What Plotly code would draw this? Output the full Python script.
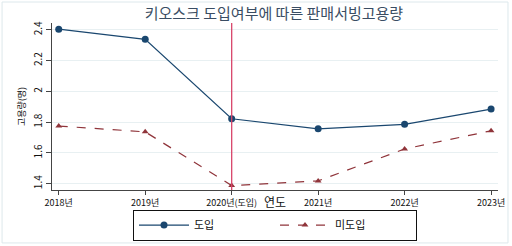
import plotly.graph_objects as go

categories = ["2018년", "2019년", "2020년(도입)", "2021년", "2022년", "2023년"]
adopted = [2.405, 2.339, 1.822, 1.757, 1.786, 1.885]
not_adopted = [1.775, 1.737, 1.388, 1.418, 1.626, 1.744]
y_ticks = [1.4, 1.6, 1.8, 2.0, 2.2, 2.4]
y_ticktext = ["1.4", "1.6", "1.8", "2", "2.2", "2.4"]
intro_index = 2

FONT = "Noto Sans CJK KR"
xs = list(range(len(categories)))

fig = go.Figure()
fig.add_trace(go.Scatter(
    x=xs, y=adopted, name="도입", mode="lines+markers",
    line=dict(color="#1a476f", width=1.2),
    marker=dict(symbol="circle", size=7, color="#1a476f"),
))
fig.add_trace(go.Scatter(
    x=xs, y=not_adopted, name="미도입", mode="lines+markers",
    line=dict(color="#90353b", width=1.2, dash="dash"),
    marker=dict(symbol="triangle-up", size=6, color="#90353b"),
))

fig.add_shape(type="line", xref="x", yref="paper", x0=intro_index, x1=intro_index,
              y0=0, y1=1, line=dict(color="#d8456a", width=1.3))
# outer frame
fig.add_shape(type="rect", xref="paper", yref="paper", x0=-0.112, x1=1.0224,
              y0=-0.317, y1=1.1257, line=dict(color="#dde8ec", width=1), layer="below")

fig.update_layout(
    width=512, height=246,
    margin=dict(l=52, r=14, t=23, b=56, autoexpand=False),
    paper_bgcolor="white", plot_bgcolor="white",
    font=dict(family=FONT, color="#222"),
    title=dict(text="키오스크 도입여부에 따른 판매서빙고용량", x=0.535, xanchor="center",
               y=0.945, yanchor="middle", font=dict(size=15, color="#3a4d63", family=FONT)),
    showlegend=True,
    legend=dict(orientation="h", x=0.5, xanchor="center",
                yref="container", y=0.085, yanchor="middle",
                bordercolor="#111", borderwidth=1, bgcolor="white",
                font=dict(size=11, family=FONT, color="#111"),
                entrywidth=76, itemwidth=50, tracegroupgap=0),
)
fig.update_xaxes(
    range=[-0.078, 5.08], tickvals=xs, ticktext=categories, tickangle=0,
    showgrid=False, zeroline=False, showline=True, linecolor="#444", linewidth=1,
    ticks="outside", ticklen=4, tickcolor="#444",
    tickfont=dict(size=9, family=FONT, color="#111"),
    title=dict(text="연도", font=dict(size=12, family=FONT, color="#111"), standoff=5),
)
fig.update_yaxes(
    range=[1.359, 2.445], tickvals=y_ticks, ticktext=y_ticktext, tickangle=-90,
    showgrid=True, gridcolor="#e8f0f2", gridwidth=1, zeroline=False,
    showline=True, linecolor="#444", linewidth=1,
    ticks="outside", ticklen=5, tickcolor="#444",
    tickfont=dict(size=10, family=FONT, color="#111"),
    title=dict(text="고용량(명)", font=dict(size=9, family=FONT, color="#111"), standoff=2),
)

fig.write_html("out.html")
